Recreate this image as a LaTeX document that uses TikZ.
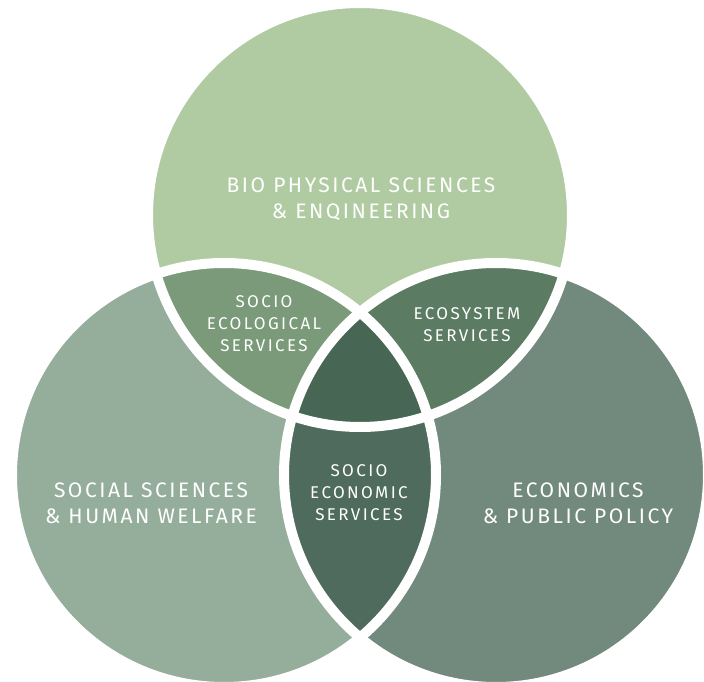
\documentclass[tikz,border=0pt]{standalone}
\usepackage{fontspec}
\newfontfamily\vennfont[LetterSpace=12]{Fira Sans}
\newfontfamily\vennsmallfont[LetterSpace=14]{Fira Sans}

\definecolor{ccbio}{RGB}{176,203,162}
\definecolor{ccsocial}{RGB}{149,173,155}
\definecolor{cceconomics}{RGB}{114,137,126}
\definecolor{ccsocioecol}{RGB}{122,154,122}
\definecolor{ccecosystem}{RGB}{92,123,99}
\definecolor{ccsocioecon}{RGB}{79,107,93}
\definecolor{cccore}{RGB}{71,102,83}

\newcommand{\vennrad}{212pt}

\begin{document}
\begin{tikzpicture}[x=1pt, y=-1pt,
  biglabel/.style={text=white, align=center, font=\vennfont\fontsize{21}{26}\selectfont},
  smalllabel/.style={text=white, align=center, font=\vennsmallfont\fontsize{17}{22}\selectfont}]

  % Bounding box of the scheme
  \useasboundingbox (0,0) rectangle (704,682);
  \clip (0,0) rectangle (704,682);

  % Centres of the three circles
  \coordinate (Ctop) at (360,215);
  \coordinate (Cleft) at (224,475);
  \coordinate (Cright) at (496,475);

  %%%%%%%%%%%%%%%%%%%%%%%%%%%%%%%%% Background of the circles %%%%%%%%%%%%%%%%%%%%%%%%%%%%%%%%%%%%
  \fill[ccbio] (Ctop) circle[radius=\vennrad];
  \fill[ccsocial] (Cleft) circle[radius=\vennrad];
  \fill[cceconomics] (Cright) circle[radius=\vennrad];

  % Intersections
  \begin{scope}
    \clip (Ctop) circle[radius=\vennrad];
    \fill[ccsocioecol] (Cleft) circle[radius=\vennrad];
    \fill[ccecosystem] (Cright) circle[radius=\vennrad];
  \end{scope}
  \begin{scope}
    \clip (Cleft) circle[radius=\vennrad];
    \fill[ccsocioecon] (Cright) circle[radius=\vennrad];
    \clip (Ctop) circle[radius=\vennrad];
    \fill[cccore] (Cright) circle[radius=\vennrad];
  \end{scope}

  % White borders
  \draw[white, line width=10] (Ctop) circle[radius=\vennrad];
  \draw[white, line width=10] (Cleft) circle[radius=\vennrad];
  \draw[white, line width=10] (Cright) circle[radius=\vennrad];

  %%%%%%%%%%%%%%%%%%%%%%%%%%%%%%%%% Labels %%%%%%%%%%%%%%%%%%%%%%%%%%%%%%%%%%%%
  \draw (361,199) node[biglabel] (bio) {BIO PHYSICAL SCIENCES\\\& ENQINEERING} ;
  \draw (151,503) node[biglabel] (social) {SOCIAL SCIENCES\\\& HUMAN WELFARE} ;
  \draw (578,503) node[biglabel] (economics) {ECONOMICS\\\& PUBLIC POLICY} ;

  \draw (264,324) node[smalllabel] (socioecol) {SOCIO\\ECOLOGICAL\\SERVICES} ;
  \draw (467,325) node[smalllabel] (ecosystem) {ECOSYSTEM\\SERVICES} ;
  \draw (359,493) node[smalllabel] (socioecon) {SOCIO\\ECONOMIC\\SERVICES} ;

\end{tikzpicture}
\end{document}
